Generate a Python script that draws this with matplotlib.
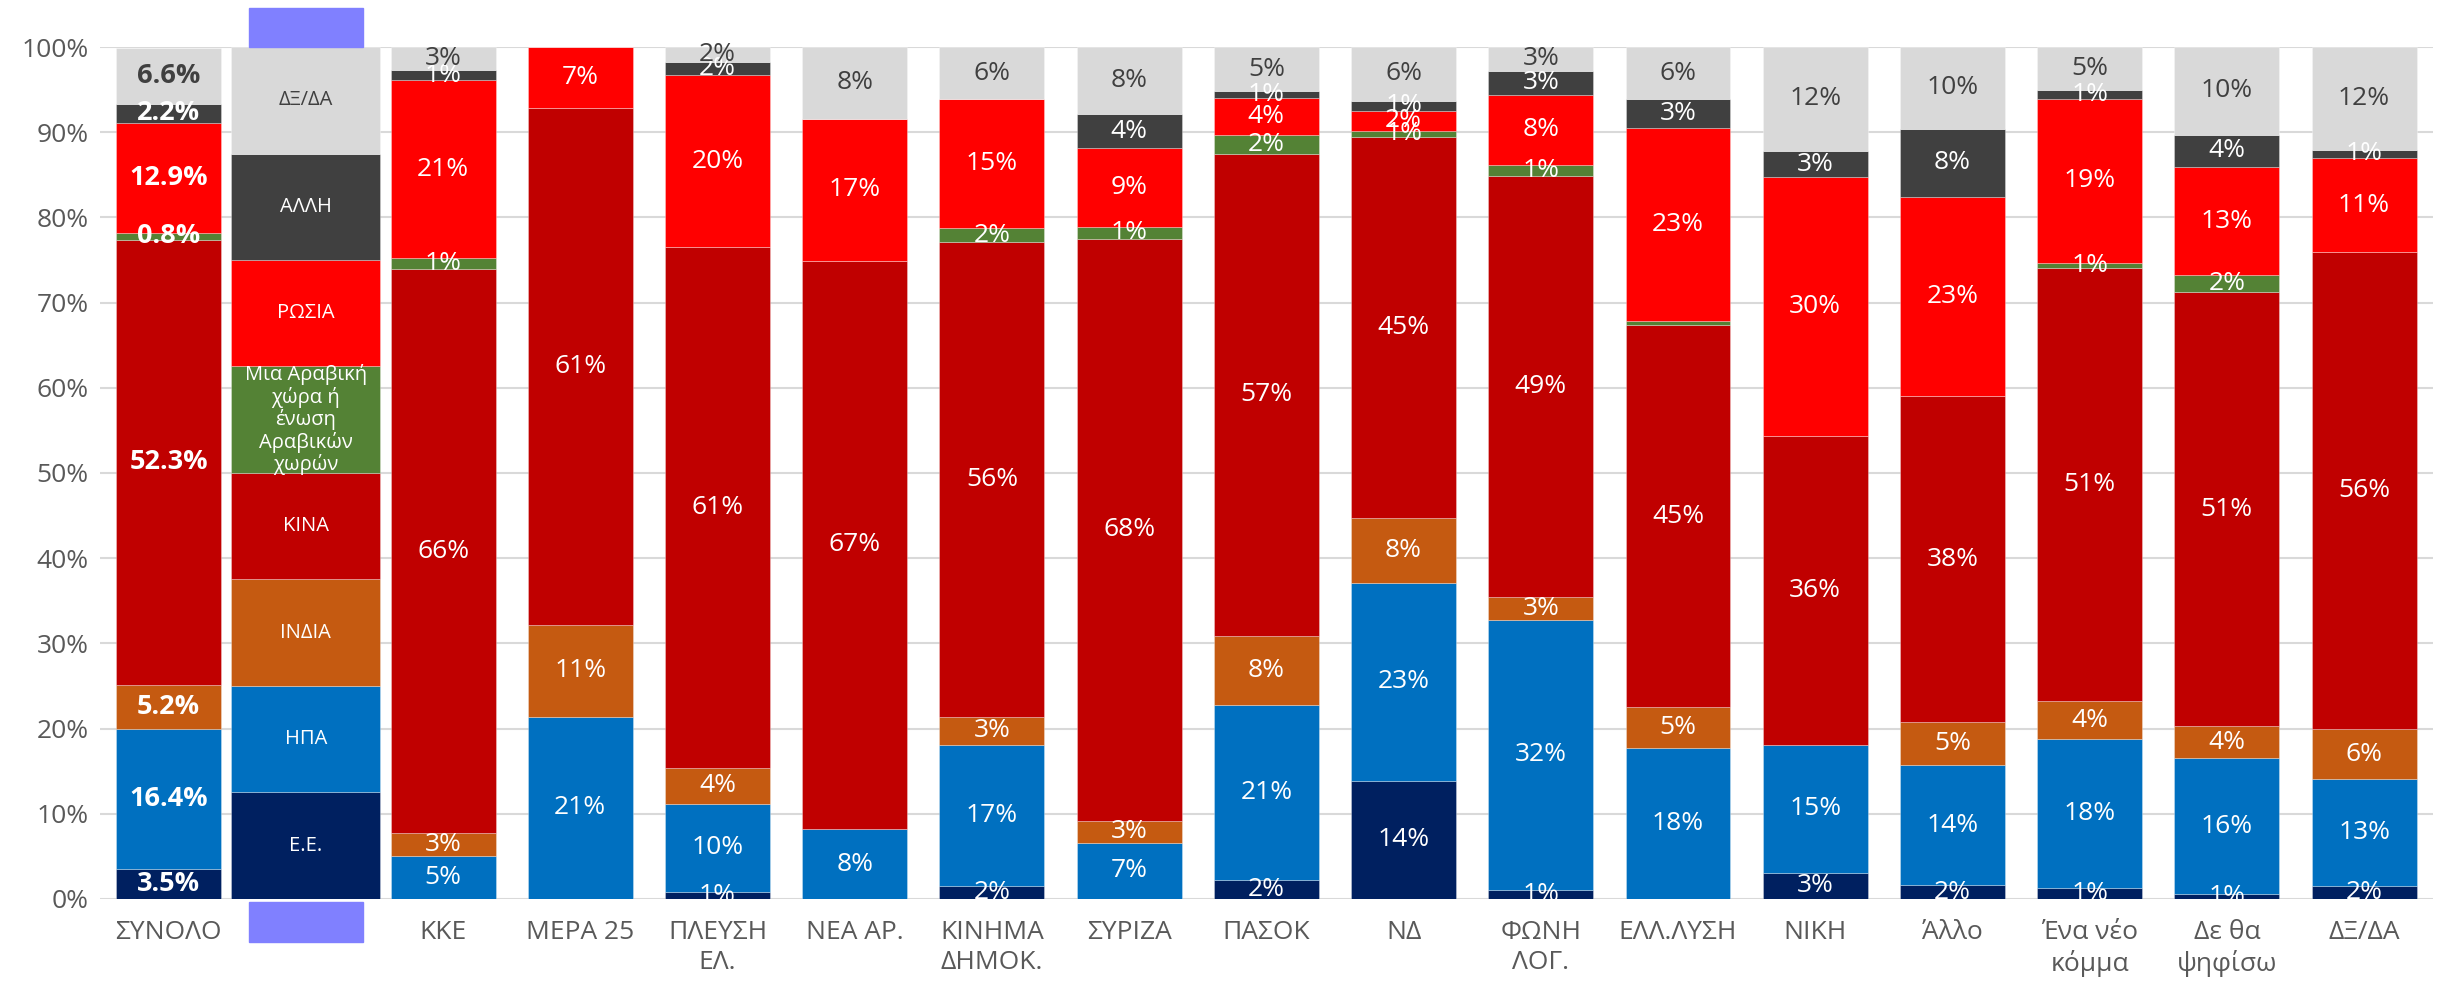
import numpy as np
import matplotlib.pyplot as plt
from matplotlib.patches import Rectangle

plt.rcParams['font.family'] = ['Open Sans', 'Noto Sans', 'DejaVu Sans']

# Στήλες (η δεύτερη είναι το "υπόμνημα" μέσα στο γράφημα)
columns = ['ΣΥΝΟΛΟ', '', 'ΚΚΕ', 'ΜΕΡΑ 25', 'ΠΛΕΥΣΗ\nΕΛ.', 'ΝΕΑ ΑΡ.', 'ΚΙΝΗΜΑ\nΔΗΜΟΚ.',
           'ΣΥΡΙΖΑ', 'ΠΑΣΟΚ', 'ΝΔ', 'ΦΩΝΗ\nΛΟΓ.', 'ΕΛΛ.ΛΥΣΗ', 'ΝΙΚΗ', 'Άλλο',
           'Ένα νέο\nκόμμα', 'Δε θα\nψηφίσω', 'ΔΞ/ΔΑ']

series_names = ['Ε.Ε.', 'ΗΠΑ', 'ΙΝΔΙΑ', 'ΚΙΝΑ',
                'Μια Αραβική\nχώρα ή\nένωση\nΑραβικών\nχωρών',
                'ΡΩΣΙΑ', 'ΑΛΛΗ', 'ΔΞ/ΔΑ']

ee     = [3.5, 12.5, 0.0, 0.0, 0.8, 0.0, 1.5, 0.0, 2.2, 13.9, 1.1, 0.0, 3.1, 1.6, 1.3, 0.6, 1.5]
ipa    = [16.4, 12.5, 5.1, 21.4, 10.4, 8.2, 16.6, 6.6, 20.6, 23.2, 31.6, 17.7, 15.0, 14.1, 17.5, 15.9, 12.6]
india  = [5.2, 12.5, 2.6, 10.8, 4.2, 0.0, 3.3, 2.6, 8.1, 7.6, 2.8, 4.8, 0.0, 5.1, 4.4, 3.8, 5.8]
kina   = [52.3, 12.5, 66.2, 60.6, 61.1, 66.7, 55.7, 68.3, 56.6, 44.7, 49.4, 44.9, 36.3, 38.2, 50.9, 50.9, 56.0]
arab   = [0.8, 12.5, 1.3, 0.0, 0.0, 0.0, 1.6, 1.4, 2.2, 0.8, 1.3, 0.4, 0.0, 0.0, 0.6, 2.0, 0.0]
rosia  = [12.9, 12.5, 20.9, 7.2, 20.2, 16.7, 15.2, 9.2, 4.3, 2.3, 8.2, 22.7, 30.3, 23.4, 19.2, 12.7, 11.1]
alli   = [2.2, 12.5, 1.2, 0.0, 1.6, 0.0, 0.0, 4.0, 0.8, 1.2, 2.8, 3.4, 3.1, 8.0, 1.1, 3.8, 0.9]
dkda   = [6.6, 12.5, 2.7, 0.0, 1.7, 8.4, 6.1, 7.9, 5.2, 6.3, 2.8, 6.1, 12.2, 9.6, 5.0, 10.3, 12.1]

series = [ee, ipa, india, kina, arab, rosia, alli, dkda]
colors = ['#002060', '#0070C0', '#C55A11', '#C00000', '#548235', '#FF0000', '#404040', '#D9D9D9']
text_colors = ['white'] * 7 + ['#404040']

fig = plt.figure(figsize=(24.4, 9.92), dpi=100)
ax = fig.add_axes([0.041, 0.0938, 0.956, 0.8588])

x = np.arange(len(columns))
widths = np.full(len(columns), 0.765)
widths[1] = 1.086

bottom = np.zeros(len(columns))
for k, vals in enumerate(series):
    vals = np.array(vals)
    ax.bar(x, vals, width=widths, bottom=bottom, color=colors[k],
           edgecolor=(1, 1, 1, 0.35), linewidth=0.6, zorder=2)
    for i, v in enumerate(vals):
        yc = bottom[i] + v / 2
        if i == 1:
            ax.text(x[i], yc, series_names[k], ha='center', va='center',
                    color=text_colors[k], fontsize=14.5, linespacing=1.1, zorder=3)
        elif i == 0:
            ax.text(x[i], yc, f'{v:.1f}%', ha='center', va='center',
                    color=text_colors[k], fontsize=19.5, fontweight='bold', zorder=3)
        elif round(v) >= 1:
            ax.text(x[i], yc, f'{v:.0f}%', ha='center', va='center',
                    color=text_colors[k], fontsize=19, zorder=3)
    bottom += vals

# μπλε-μωβ πλαίσια πάνω και κάτω από τη στήλη υπομνήματος
ax.add_patch(Rectangle((0.586, 100), 0.831, 4.6, color='#8080FF',
                       clip_on=False, zorder=4))
ax.add_patch(Rectangle((0.586, -5.0), 0.831, 4.6, color='#8080FF',
                       clip_on=False, zorder=4))

ax.set_xlim(-0.5, len(columns) - 0.5)
ax.set_ylim(0, 100)
ax.set_yticks(np.arange(0, 101, 10))
ax.set_yticklabels([f'{t}%' for t in range(0, 101, 10)])
ax.set_xticks(x)
ax.set_xticklabels(columns, linespacing=1.25)
ax.tick_params(axis='both', length=0, labelsize=19, colors='#595959')
ax.tick_params(axis='x', pad=15)
ax.tick_params(axis='y', pad=8)
ax.grid(axis='y', color='#D9D9D9', linewidth=1.5, zorder=0)
ax.set_axisbelow(True)
for s in ax.spines.values():
    s.set_visible(False)

fig.savefig('out.png', dpi=100)
